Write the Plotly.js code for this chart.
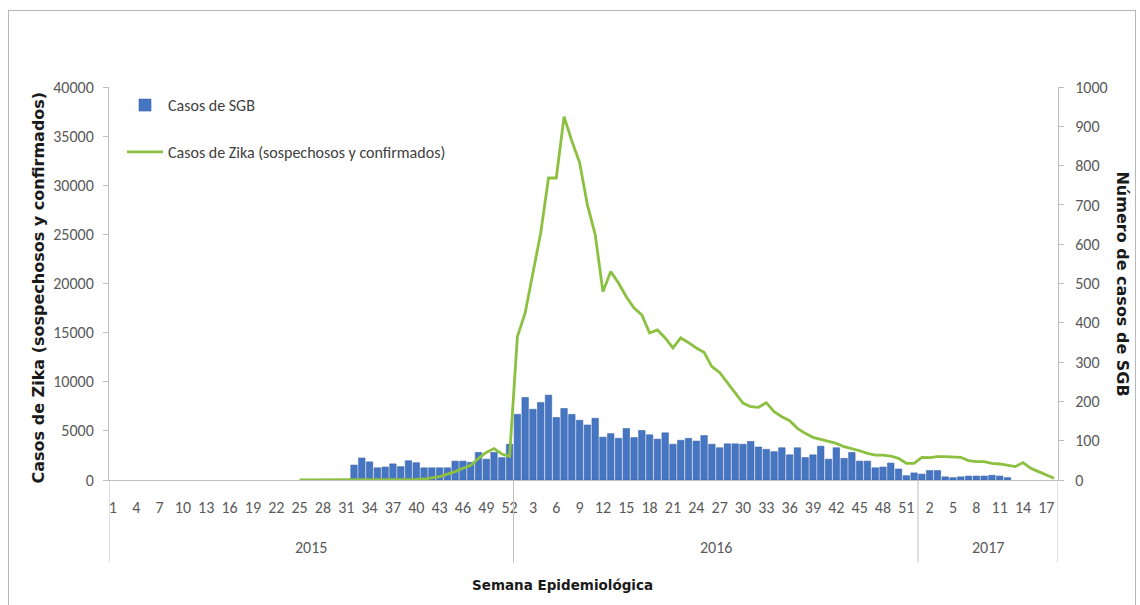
<!DOCTYPE html>
<html>
<head>
<meta charset="utf-8">
<script src="https://cdn.plot.ly/plotly-3.0.1.min.js"></script>
<style>
  html, body { margin: 0; padding: 0; background: #ffffff; }
  #wrap { position: relative; width: 1140px; height: 605px; overflow: hidden; }
  #chart { position: absolute; left: 0; top: 0; width: 1140px; height: 605px; }
  #frame { position: absolute; left: 8px; top: 10px; width: 1126px; height: 610px;
           border: 1px solid #b8b8b8; pointer-events: none; }
</style>
</head>
<body>
<div id="wrap"><div id="chart"></div><div id="frame"></div></div>
<script>
// ---- categories ----
const years = ['2015', '2016', '2017'];
const weeks2015 = [1,2,3,4,5,6,7,8,9,10,11,12,13,14,15,16,17,18,19,20,21,22,23,24,25,26,27,28,29,30,31,32,33,34,35,36,37,38,39,40,41,42,43,44,45,46,47,48,49,50,51,52];
const weeks2016 = [1,2,3,4,5,6,7,8,9,10,11,12,13,14,15,16,17,18,19,20,21,22,23,24,25,26,27,28,29,30,31,32,33,34,35,36,37,38,39,40,41,42,43,44,45,46,47,48,49,50,51,52];
const weeks2017 = [1,2,3,4,5,6,7,8,9,10,11,12,13,14,15,16,17,18];

// ---- SGB cases (right axis), per week ----
const sgb2015 = [null,null,null,null,null,null,null,null,null,null,null,null,null,null,null,null,null,null,null,null,null,null,null,null,null,null,null,null,null,null,null,
  38,56,46,31,33,41,34,49,44,31,31,31,31,48,48,45,70,53,70,57,91];
const sgb2016 = [167,210,180,197,216,159,182,167,152,140,157,109,118,106,131,108,126,115,104,120,91,101,106,99,113,91,82,92,92,91,98,84,78,72,82,64,82,57,64,86,53,82,55,70,48,48,31,33,43,28,11,18];
const sgb2017 = [15,24,24,8,6,8,10,10,10,12,10,6,null,null,null,null,null,null];

// ---- Zika cases (left axis), per week ----
const zika2015 = [null,null,null,null,null,null,null,null,null,null,null,null,null,null,null,null,null,null,null,null,null,null,null,null,
  0,0,0,0,0,0,0,0,0,0,0,0,0,20,40,60,100,200,350,600,850,1200,1500,2200,2800,3200,2650,2400];
const zika2016 = [14590,17000,21070,25140,30740,30740,36990,34500,32300,28000,25000,19170,21210,20050,18660,17500,16800,14960,15270,14460,13440,14460,13980,13440,13000,11540,10950,9950,8900,
  7830,7460,7400,7870,6950,6440,6040,5260,4750,4340,4140,3900,3730,3390,3220,2980,2710,2540,2540,2440,2200,1700,1700];
const zika2017 = [2310,2270,2370,2370,2370,2310,1970,1870,1870,1700,1630,1530,1360,1770,1190,850,510,170];

// ---- labels ----
const sgbName = 'Casos de SGB';
const zikaName = 'Casos de Zika (sospechosos y confirmados)';
const leftTitle = 'Casos de Zika (sospechosos y confirmados)';
const rightTitle = 'Número de casos de SGB';
const xTitle = 'Semana Epidemiológica';

// build category keys
const weekLists = [weeks2015, weeks2016, weeks2017];
const cats = [], catWeek = [];
weekLists.forEach((wl, yi) => wl.forEach(w => { cats.push(years[yi] + '-' + w); catWeek.push(w); }));
const sgb = sgb2015.concat(sgb2016, sgb2017);
const zika = zika2015.concat(zika2016, zika2017);

const tickvals = cats.filter((c, i) => i % 3 === 0);
const ticktext = catWeek.filter((w, i) => i % 3 === 0).map(String);

// year boundaries (in category index units)
const bounds = [];
let acc = 0;
bounds.push(acc - 0.5);
const yearCenters = [];
weekLists.forEach(wl => { yearCenters.push(acc + (wl.length - 1) / 2); acc += wl.length; bounds.push(acc - 0.5); });

const regF = 'Carlito, "Liberation Sans", Arial, sans-serif';
const boldF = '"DejaVu Sans", Verdana, sans-serif';
const grey = '#595959';
const lineGrey = '#bfbfbf';

const traces = [
  { type: 'bar', x: cats, y: sgb, name: sgbName, yaxis: 'y', legendgroup: 'a',
    marker: { color: '#4676c2', line: { color: '#3a65ad', width: 0.6 } }, hoverinfo: 'x+y' },
  { type: 'scatter', mode: 'lines', x: cats, y: zika, name: zikaName, yaxis: 'y2', legendgroup: 'b',
    line: { color: '#8bc040', width: 2.8 }, connectgaps: false, hoverinfo: 'x+y' }
];

const shapes = bounds.map(b => ({ type: 'line', xref: 'x', yref: 'paper', x0: b, x1: b, y0: 0, y1: -0.21,
  line: { color: lineGrey, width: 1 } }));

const annotations = yearCenters.map((c, i) => ({ xref: 'x', yref: 'paper', x: c, y: -0.173, text: years[i],
  showarrow: false, xanchor: 'center', yanchor: 'middle', font: { family: regF, size: 16, color: grey } }));
annotations.push({ xref: 'paper', yref: 'paper', x: -0.0748, y: 0.49, text: '<b>' + leftTitle + '</b>', textangle: -90,
  showarrow: false, xanchor: 'center', yanchor: 'middle', font: { family: boldF, size: 16, color: '#1a1a1a' } });
annotations.push({ xref: 'paper', yref: 'paper', x: 1.0675, y: 0.5, text: '<b>' + rightTitle + '</b>', textangle: 90,
  showarrow: false, xanchor: 'center', yanchor: 'middle', font: { family: boldF, size: 16, color: '#1a1a1a' } });
annotations.push({ xref: 'paper', yref: 'paper', x: 0.478, y: -0.267, text: '<b>' + xTitle + '</b>',
  showarrow: false, xanchor: 'center', yanchor: 'middle', font: { family: boldF, size: 13.5, color: '#1a1a1a' } });

const layout = {
  width: 1140, height: 605,
  margin: { l: 109, r: 82, t: 87, b: 125 },
  paper_bgcolor: '#ffffff', plot_bgcolor: '#ffffff',
  bargap: 0.17,
  showlegend: true,
  legend: { x: 0.0137, y: 0.997, xanchor: 'left', yanchor: 'top', bgcolor: 'rgba(0,0,0,0)',
    font: { family: regF, size: 16, color: '#404040' }, traceorder: 'grouped', tracegroupgap: 23, itemwidth: 36 },
  xaxis: { type: 'category', categoryorder: 'array', categoryarray: cats, range: [-0.5, cats.length - 0.5],
    tickmode: 'array', tickvals: tickvals, ticktext: ticktext, tickangle: 0,
    ticks: 'outside', ticklen: 13, tickcolor: 'rgba(0,0,0,0)',
    tickfont: { family: regF, size: 16, color: grey },
    showline: true, linecolor: lineGrey, linewidth: 1, showgrid: false, zeroline: false },
  yaxis: { side: 'right', range: [0, 1000], dtick: 100, tick0: 0,
    ticks: 'outside', ticklen: 5, tickcolor: lineGrey, ticklabelstandoff: 8,
    tickfont: { family: regF, size: 16, color: grey },
    showline: true, linecolor: lineGrey, linewidth: 1, showgrid: false, zeroline: false },
  yaxis2: { side: 'left', overlaying: 'y', range: [0, 40000], dtick: 5000, tick0: 0,
    ticks: 'outside', ticklen: 5, tickcolor: lineGrey, ticklabelstandoff: 6,
    tickfont: { family: regF, size: 16, color: grey }, tickformat: 'd',
    showline: true, linecolor: lineGrey, linewidth: 1, showgrid: false, zeroline: false },
  shapes: shapes,
  annotations: annotations
};

Plotly.newPlot('chart', traces, layout, { displayModeBar: false, staticPlot: true });
</script>
</body>
</html>
